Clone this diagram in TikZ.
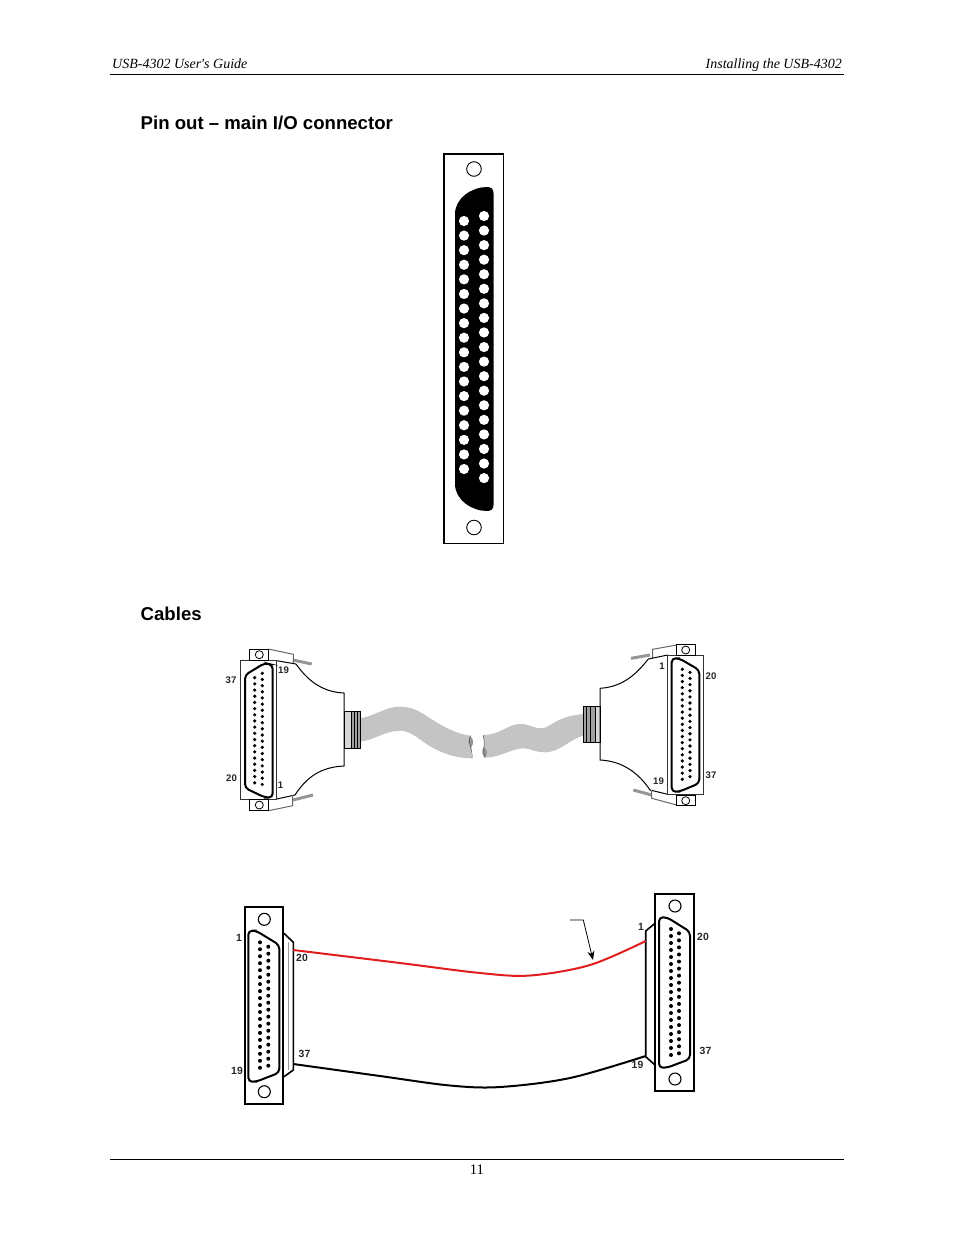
\documentclass[tikz,border=0pt]{standalone}
\usepackage{fontspec}
\setmainfont{Liberation Serif}
\setsansfont{Liberation Sans}
\usetikzlibrary{arrows.meta,positioning,calc}
\definecolor{cablegray}{RGB}{196,196,196}
\definecolor{reliefgray}{RGB}{160,160,160}
\definecolor{screwgray}{RGB}{150,150,150}
\definecolor{wirered}{RGB}{224,30,30}
\tikzset{
    pagetext/.style={inner sep=0pt, font=\fontsize{14}{16}\selectfont\itshape},
    heading/.style={inner sep=0pt, anchor=west, font=\fontsize{18.6}{21}\selectfont\sffamily\bfseries},
    pinlabel/.style={inner sep=0pt, font=\fontsize{9.6}{10}\selectfont\sffamily\bfseries, text=black!85},
    flatlabel/.style={inner sep=0pt, font=\fontsize{10.4}{11}\selectfont\sffamily\bfseries, text=black!85},
    plate/.style={draw=black!80, line width=1pt, fill=white},
    heavyplate/.style={draw=black, line width=2.3pt, fill=white},
    shell/.style={draw=black, line width=2pt, rounded corners=4pt},
    hood/.style={draw=black, line width=1pt},
    lug/.style={draw=black, line width=1pt, fill=white},
    screw/.style={draw=screwgray, line width=3pt},
    wire/.style={line width=2pt},
}
\begin{document}
\begin{tikzpicture}[x=1pt,y=-1pt]
    \useasboundingbox (0,0) rectangle (954,1235);

    % Page header and footer
    \node[pagetext, anchor=base west] (guide) at (112,68) {USB-4302 User\textquotesingle s Guide};
    \node[pagetext, anchor=base east] (install) at (842,68) {Installing the USB-4302};
    \draw[line width=0.8pt] (110,74.5) -- (844,74.5);
    \draw[line width=0.8pt] (110,1159.5) -- (844,1159.5);
    \node[inner sep=0pt, font=\fontsize{14.6}{16}\selectfont] (pagenum) at (477,1170) {11};

    \node[heading] (pinout) at (140.5,123) {Pin out -- main I/O connector};
    \node[heading] (cables) at (140.5,614) {Cables};

    % Main I/O connector
    \draw[line width=1.1pt, fill=white] (444,154) rectangle (503.5,543.5);
    \draw[line width=0.9pt] (474,169) circle (7.3pt);
    \draw[line width=0.9pt] (474,527.5) circle (7.3pt);
    \fill[black] (455,214) .. controls (455,198) and (472,187) .. (487,187)
        .. controls (491,187) and (493.5,189) .. (493.5,193) -- (493.5,505)
        .. controls (493.5,509) and (491,511) .. (487,511)
        .. controls (472,511) and (455,500) .. (455,484) -- cycle;
    \foreach \i in {0,...,17}
        \fill[white] (464,{221+14.59*\i}) circle (5.1pt);
    \foreach \i in {0,...,18}
        \fill[white] (484,{216+14.56*\i}) circle (5.1pt);

    % Cable, left half
    \fill[cablegray] (360,718.3) .. controls (375,716) and (385,706.7) .. (400,706.7)
        .. controls (417,706.7) and (425,716) .. (433,720)
        .. controls (445,728) and (458,734) .. (470,735.7)
        .. controls (474,742) and (470,750) .. (472,758.3)
        .. controls (455,758) and (445,754) .. (433,748)
        .. controls (420,741) and (412,730.7) .. (400,730.7)
        .. controls (385,730.7) and (375,740) .. (360,741.7) -- cycle;
    \fill[screwgray] (470.5,736) .. controls (467,741) and (469,745) .. (471,747)
        .. controls (474,744) and (474,740) .. (470.5,736) -- cycle;
    \draw[black!70, line width=0.5pt] (470.5,735.5) .. controls (467,741) and (473,750) .. (472,758);

    % Cable, right half
    \fill[cablegray] (483,735) .. controls (500,735) and (508,724) .. (520,724)
        .. controls (530,724) and (533,728.3) .. (541.7,728.3)
        .. controls (550,728.3) and (555,716.7) .. (583,714)
        -- (583,735.7) .. controls (570,739) and (560,752.3) .. (545,752.3)
        .. controls (535,752.3) and (530,748.3) .. (523,748.3)
        .. controls (512,748.3) and (500,757.7) .. (485,757.7)
        .. controls (482,750) and (486,742) .. (483,735) -- cycle;
    \fill[screwgray] (484,747) .. controls (481,751) and (482,755) .. (485,757.5)
        .. controls (488,755) and (488,750) .. (484,747) -- cycle;
    \draw[black!70, line width=0.5pt] (483,735) .. controls (486,742) and (482,750) .. (485,757.7);

    % Left hood
    \draw[screw] (293,660) -- (311.7,664);
    \draw[screw] (293,800) -- (313,795);
    \fill[cablegray!70] (344,711.7) rectangle (351,748.3);
    \fill[reliefgray] (351,711.7) rectangle (360.7,748.3);
    \draw[line width=1pt] (344,711.7) rectangle (360.7,748.3);
    \foreach \x in {351,354.3,357.7}
        \draw[line width=0.6pt] (\x,711.7) -- (\x,748.3);
    \draw[hood, draw=black!60] (268.3,649) -- (293.3,654.3) -- (293.3,663);
    \draw[hood] (276.7,660.7) -- (296,664) .. controls (306,678) and (320,692) .. (344,693) -- (344,766)
        .. controls (320,767) and (306,778) .. (295,795) -- (276.7,799);
    \draw[hood, draw=black!60] (268.3,810.7) -- (292.7,805.7) -- (292.7,795);
    \draw[plate] (240.7,660) rectangle (276.7,799);
    \draw[lug] (249.3,649) rectangle (268.3,660);
    \draw[lug] (249.3,799.3) rectangle (268.3,810.7);
    \draw[line width=0.8pt] (259.3,654.7) circle (4pt);
    \draw[line width=0.8pt] (259.3,805) circle (4pt);
    \draw[shell] (245,675) -- (265,663) -- (272.7,665) -- (272.7,797.5) -- (265,797.5) -- (245,788) -- cycle;
    \foreach \i in {0,...,17}
        \fill (254.7,{677.7+6.18*\i}) circle (1.8pt);
    \foreach \i in {0,...,18}
        \fill (262.3,{673.3+6.17*\i}) circle (1.8pt);

    \node[pinlabel] (lefta) at (231,680.5) {37};
    \node[pinlabel] (leftb) at (231.5,778.5) {20};
    \node[pinlabel] (leftc) at (283.5,670.5) {19};
    \node[pinlabel] (leftd) at (280.5,785.5) {1};

    % Right hood
    \draw[screw] (631,658.3) -- (650,655);
    \draw[screw] (633.3,790) -- (651.7,795);
    \fill[reliefgray] (583.3,706) rectangle (595,742.7);
    \fill[cablegray!70] (595,706) rectangle (600,742.7);
    \draw[line width=1pt] (583.3,706) rectangle (600,742.7);
    \foreach \x in {586.7,590.7,595}
        \draw[line width=0.6pt] (\x,706) -- (\x,742.7);
    \draw[hood, draw=black!60] (676.7,645) -- (652.7,649.3) -- (652.7,658.3);
    \draw[hood] (667.7,655) -- (648.3,659) .. controls (638,672) and (624,687) .. (600,688.3) -- (600,760)
        .. controls (624,761) and (640,775) .. (650,790) -- (667.7,794.3);
    \draw[hood, draw=black!60] (676.7,805) -- (651.7,798.3) -- (651.7,790);
    \draw[plate] (667.7,655) rectangle (703.3,794.3);
    \draw[lug] (676.7,644) rectangle (695.7,655);
    \draw[lug] (676.7,795) rectangle (695.7,805.7);
    \draw[line width=0.8pt] (685.7,650) circle (4pt);
    \draw[line width=0.8pt] (685.7,800.7) circle (4pt);
    \draw[shell] (671.7,658.3) -- (679,658.3) -- (699.3,670) -- (699.3,783.3) -- (679,791.7) -- (671.7,791.7) -- cycle;
    \foreach \i in {0,...,18}
        \fill (682.3,{669.3+6.11*\i}) circle (1.8pt);
    \foreach \i in {0,...,17}
        \fill (690,{672.3+6.14*\i}) circle (1.8pt);

    \node[pinlabel] (righta) at (662,666) {1};
    \node[pinlabel] (rightb) at (711,676.5) {20};
    \node[pinlabel] (rightc) at (658.5,781.5) {19};
    \node[pinlabel] (rightd) at (711,775.5) {37};

    % Flat cable, left connector
    \draw[line width=1.6pt] (284,933.3) -- (293.3,942.3) -- (293.3,1070) -- (284,1076.7);
    \draw[black!40, line width=0.5pt] (288.5,942) -- (288.5,1070);
    \draw[heavyplate] (245,907.3) rectangle (283.3,1104);
    \draw[line width=1.1pt] (264.3,919.3) circle (6pt);
    \draw[line width=1.1pt] (264.3,1091.7) circle (6pt);
    \draw[shell] (248.3,930.7) -- (256,930.7) -- (279.3,945) -- (279.3,1072.7) -- (256,1081.7) -- (248.3,1081.7) -- cycle;
    \foreach \i in {0,...,18}
        \fill (260,{942.3+6.97*\i}) circle (2pt);
    \foreach \i in {0,...,17}
        \fill (268.3,{946.7+7*\i}) circle (2pt);

    \node[flatlabel] (flata) at (239,938) {1};
    \node[flatlabel] (flatb) at (302,958) {20};
    \node[flatlabel] (flatc) at (304.5,1054) {37};
    \node[flatlabel] (flatd) at (237,1071) {19};

    % Flat cable, right connector
    \draw[line width=1.6pt] (655,923.3) -- (645.7,931) -- (645.7,1056.7) -- (655,1065);
    \draw[heavyplate] (655,894) rectangle (694.3,1091);
    \draw[line width=1.1pt] (675,906) circle (6pt);
    \draw[line width=1.1pt] (675,1079) circle (6pt);
    \draw[shell] (659,917.3) -- (667,917.3) -- (690,931.7) -- (690,1059) -- (667,1067.7) -- (659,1067.7) -- cycle;
    \foreach \i in {0,...,18}
        \fill (671,{929+7*\i}) circle (2pt);
    \foreach \i in {0,...,17}
        \fill (679,{933.3+7.06*\i}) circle (2pt);

    \node[flatlabel] (flate) at (641,927) {1};
    \node[flatlabel] (flatf) at (703,937) {20};
    \node[flatlabel] (flatg) at (705.5,1051) {37};
    \node[flatlabel] (flath) at (637.5,1065) {19};

    % Wires
    \coordinate (redleft) at (293.3,950);
    \coordinate (redright) at (645.7,941);
    \coordinate (blackleft) at (293.3,1064);
    \coordinate (blackright) at (645.7,1056);
    \draw[wirered, wire] plot[smooth, tension=0.55] coordinates {
        (redleft) (400,963) (480,973) (530,975.5) (590,965) (redright)
    };
    \draw[wire] plot[smooth, tension=0.55] coordinates {
        (blackleft) (380,1076) (450,1085.5) (500,1087) (570,1078) (blackright)
    };

    % Callout
    \coordinate (callstart) at (570,920);
    \coordinate (callbend) at (583.3,920);
    \coordinate (calltip) at (593,960);
    \draw[-{Stealth[length=9pt,width=7pt]}, line width=0.8pt] (callstart) -- (callbend) -- (calltip);
\end{tikzpicture}
\end{document}
